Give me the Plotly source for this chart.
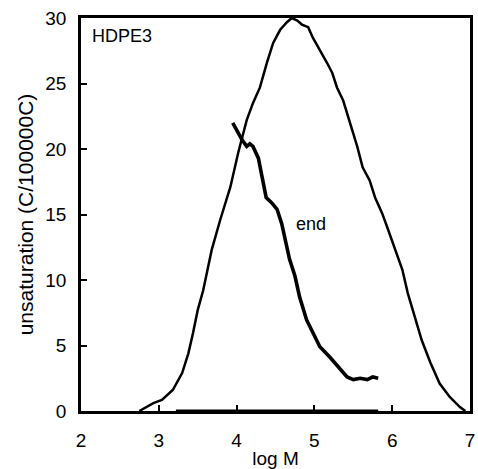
import plotly.graph_objects as go

# Molecular weight distribution (broad curve)
mwd_logM = [2.75, 2.80, 2.93, 3.04, 3.18, 3.30, 3.38, 3.44, 3.50, 3.57, 3.63, 3.68,
            3.79, 3.92, 4.02, 4.07, 4.13, 4.21, 4.30, 4.39, 4.47, 4.56, 4.65, 4.71,
            4.78, 4.84, 4.92, 4.98, 5.07, 5.16, 5.23, 5.29, 5.37, 5.46, 5.55, 5.62,
            5.71, 5.78, 5.87, 5.95, 6.05, 6.13, 6.20, 6.29, 6.38, 6.49, 6.61, 6.74,
            6.87, 6.94]
mwd_val = [0.0, 0.15, 0.6, 0.84, 1.6, 2.9, 4.4, 5.95, 7.7, 9.2, 11.0, 12.3,
           14.6, 17.1, 19.7, 20.8, 22.2, 23.5, 24.7, 26.6, 28.1, 29.1, 29.7, 30.0,
           29.8, 29.5, 29.3, 28.5, 27.6, 26.6, 25.8, 24.7, 23.7, 22.0, 20.2, 18.6,
           17.6, 16.3, 15.1, 13.8, 12.1, 10.8, 9.0, 7.2, 5.4, 3.7, 2.1, 1.07,
           0.3, 0.0]

# End-group unsaturation
end_logM = [3.95, 4.07, 4.13, 4.17, 4.21, 4.28, 4.33, 4.38, 4.45, 4.52, 4.58, 4.63,
            4.68, 4.75, 4.81, 4.90, 4.98, 5.07, 5.20, 5.30, 5.42, 5.50, 5.59, 5.68,
            5.75, 5.82]
end_val = [22.0, 20.7, 20.2, 20.4, 20.2, 19.3, 17.8, 16.3, 15.9, 15.4, 14.3, 13.0,
           11.6, 10.3, 8.7, 6.95, 5.95, 4.9, 4.1, 3.4, 2.6, 2.4, 2.5, 2.4,
           2.6, 2.5]

base_logM = [3.22, 5.82]
base_val = [0.0, 0.0]

x_ticks = [2, 3, 4, 5, 6, 7]
y_ticks = [0, 5, 10, 15, 20, 25, 30]

FONT = "Liberation Sans, Arial, sans-serif"

fig = go.Figure()
fig.add_trace(go.Scatter(x=mwd_logM, y=mwd_val, mode="lines",
                         line=dict(color="black", width=2.5), showlegend=False))
fig.add_trace(go.Scatter(x=end_logM, y=end_val, mode="lines",
                         line=dict(color="black", width=3.6), showlegend=False))
fig.add_trace(go.Scatter(x=base_logM, y=base_val, mode="lines",
                         line=dict(color="black", width=3), showlegend=False))

fig.add_annotation(x=2.12, y=28.6, xref="x", yref="y", text="HDPE3", showarrow=False,
                   xanchor="left", yanchor="middle", font=dict(size=18, color="black", family=FONT))
fig.add_annotation(x=4.96, y=14.3, xref="x", yref="y", text="end", showarrow=False,
                   xanchor="center", yanchor="middle", font=dict(size=18, color="black", family=FONT))

fig.update_layout(
    width=478, height=469,
    margin=dict(l=81, r=8, t=18, b=58),
    paper_bgcolor="white", plot_bgcolor="white",
    font=dict(family=FONT, color="black", size=18),
    xaxis=dict(range=[2, 7], tickvals=x_ticks, showgrid=False, zeroline=False,
               showline=True, linecolor="black", linewidth=2.5, mirror=True,
               ticks="inside", ticklen=6, tickwidth=2, tickcolor="black",
               tickfont=dict(size=19), ticklabelstandoff=10, automargin=False,
               title=dict(text="log M", font=dict(size=19), standoff=4)),
    yaxis=dict(range=[0, 30], tickvals=y_ticks, showgrid=False, zeroline=False,
               showline=True, linecolor="black", linewidth=2.5, mirror=True,
               ticks="inside", ticklen=6, tickwidth=2, tickcolor="black",
               tickfont=dict(size=19), ticklabelstandoff=8, automargin=False,
               title=dict(text="unsaturation (C/100000C)", font=dict(size=21), standoff=6)),
)

fig.write_html("out.html")
